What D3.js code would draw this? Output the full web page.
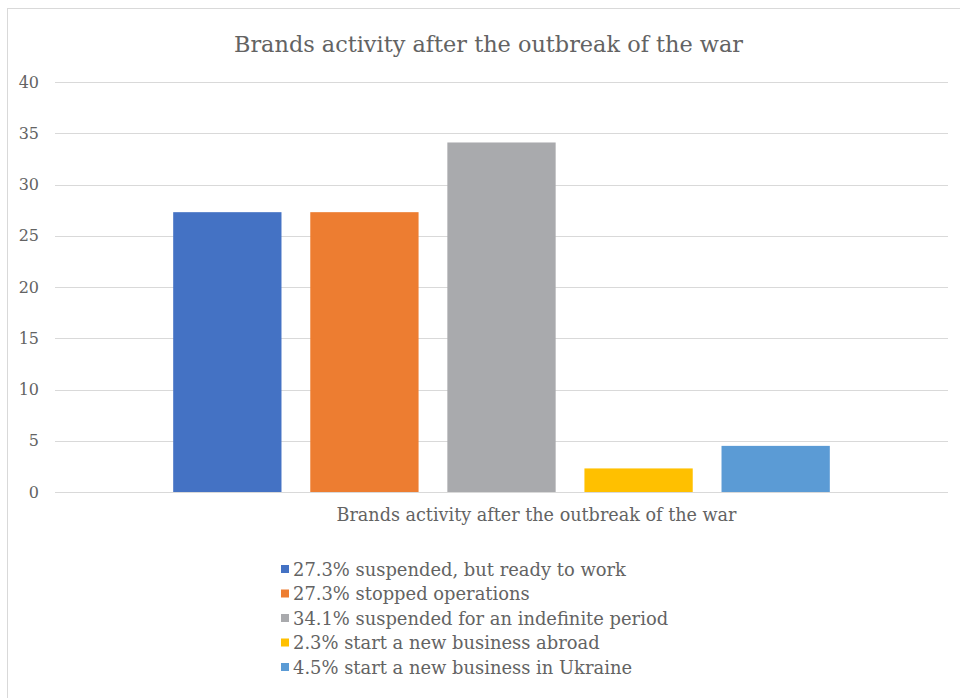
<!DOCTYPE html>
<html>
<head>
<meta charset="utf-8">
<script src="https://cdn.jsdelivr.net/npm/d3@7"></script>
<style>
  body { margin: 0; background: #fff; }
  svg text { fill: #636363; }
</style>
</head>
<body>
<div id="chart"></div>
<script>
// Data
const title = "Brands activity after the outbreak of the war";
const categories = ["Brands activity after the outbreak of the war"];
const seriesNames = [
    "27.3% suspended, but ready to work",
    "27.3% stopped operations",
    "34.1% suspended for an indefinite period",
    "2.3% start a new business abroad",
    "4.5% start a new business in Ukraine"
];
const seriesValues = [27.3, 27.3, 34.1, 2.3, 4.5];
const seriesColors = ["#4472C4", "#ED7D31", "#A9AAAD", "#FFC000", "#5B9BD5"];
const yTicks = [0, 5, 10, 15, 20, 25, 30, 35, 40];

const width = 960, height = 698;
const serif = "'DejaVu Serif', serif";

const svg = d3.select("#chart")
    .append("svg")
    .attr("width", width)
    .attr("height", height)
    .attr("font-family", serif);

// Chart border
svg.append("rect")
    .attr("x", 7.5)
    .attr("y", 8.5)
    .attr("width", 960)
    .attr("height", 700)
    .attr("fill", "none")
    .attr("stroke", "#D9D9D9")
    .attr("stroke-width", 1);

// Scales
const y = d3.scaleLinear().domain([0, 40]).range([492, 82]);

const x0 = d3.scaleBand()
    .domain(categories)
    .range([55, 948])
    .paddingInner(0)
    .paddingOuter(0.18);

const x1 = d3.scaleBand()
    .domain(seriesNames)
    .range([0, x0.bandwidth()])
    .paddingInner(0.21);

// Gridlines
svg.append("g")
    .selectAll("line")
    .data(yTicks)
    .enter()
    .append("line")
    .attr("x1", 55)
    .attr("x2", 948)
    .attr("y1", d => Math.round(y(d)) + 0.5)
    .attr("y2", d => Math.round(y(d)) + 0.5)
    .attr("stroke", "#D9D9D9")
    .attr("stroke-width", 1);

// Y axis labels
const yAxis = d3.axisLeft(y).tickValues(yTicks).tickSize(0).tickPadding(0);
svg.append("g")
    .attr("transform", "translate(39,0)")
    .call(yAxis)
    .attr("font-family", serif)
    .call(g => g.select(".domain").remove())
    .selectAll("text")
    .style("font-size", "16px")
    .style("fill", "#636363");

// Bars
const groups = svg.selectAll(".group")
    .data(categories)
    .enter()
    .append("g")
    .attr("transform", d => `translate(${x0(d)},0)`);

groups.selectAll("rect")
    .data(seriesNames.map((name, i) => ({name: name, value: seriesValues[i], color: seriesColors[i]})))
    .enter()
    .append("rect")
    .attr("x", d => x1(d.name))
    .attr("width", x1.bandwidth())
    .attr("y", d => y(d.value))
    .attr("height", d => y(0) - y(d.value))
    .attr("fill", d => d.color);

// Category label
const xAxis = d3.axisBottom(x0).tickSize(0).tickPadding(0);
svg.append("g")
    .attr("transform", "translate(35,508)")
    .call(xAxis)
    .attr("font-family", serif)
    .call(g => g.select(".domain").remove())
    .selectAll("text")
    .style("font-size", "17.6px")
    .style("fill", "#636363");

// Title
svg.append("text")
    .attr("x", 488.5)
    .attr("y", 52)
    .attr("text-anchor", "middle")
    .style("font-size", "22.4px")
    .text(title);

// Legend
const legend = svg.append("g").attr("transform", "translate(281,569)");
const items = legend.selectAll("g")
    .data(seriesNames)
    .enter()
    .append("g")
    .attr("transform", (d, i) => `translate(0,${i * 24.5})`);

items.append("rect")
    .attr("x", 0)
    .attr("y", -4)
    .attr("width", 8)
    .attr("height", 8)
    .attr("fill", (d, i) => seriesColors[i]);

items.append("text")
    .attr("x", 12)
    .attr("y", 6.5)
    .style("font-size", "17.9px")
    .text(d => d);
</script>
</body>
</html>
